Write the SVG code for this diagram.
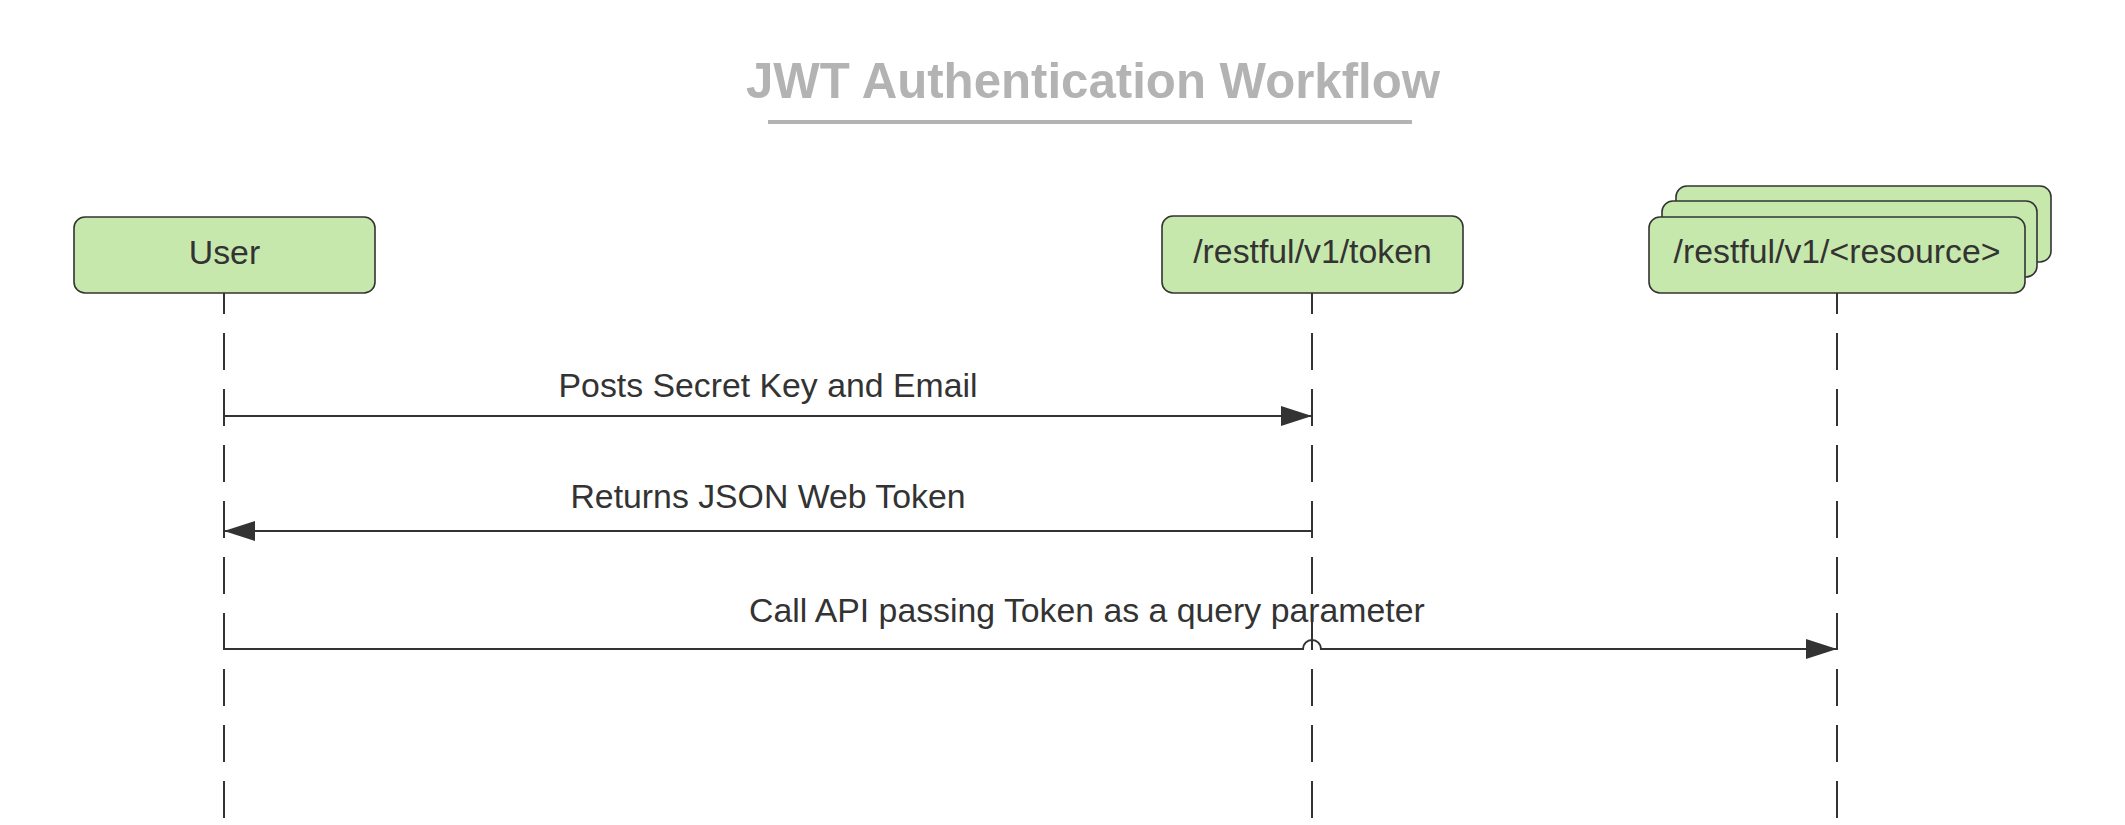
<svg xmlns="http://www.w3.org/2000/svg" width="2125" height="825" viewBox="0 0 2125 825">
  <style>
    .box { fill: #c7e8ac; stroke: #333333; stroke-width: 1.6; }
    .lbl { font-family: "Liberation Sans", Arial, sans-serif; font-size: 33.8px; fill: #333333; }
    .life { stroke: #333333; stroke-width: 2; stroke-dasharray: 37 19; stroke-dashoffset: 16; fill: none; }
    .msg { stroke: #333333; stroke-width: 2; fill: none; }
    .title { font-family: "Liberation Sans", Arial, sans-serif; font-size: 49.2px; font-weight: bold; fill: #b3b3b3; }
  </style>
  <defs>
    <marker id="arr" viewBox="0 0 31 20" refX="31" refY="10" markerWidth="31" markerHeight="20" markerUnits="userSpaceOnUse" orient="auto">
      <path d="M0,0 L31,10 L0,20 Z" fill="#333333"/>
    </marker>
  </defs>
  <rect width="2125" height="825" fill="#ffffff"/>

  <g id="title">
    <text class="title" x="1093" y="98" text-anchor="middle">JWT Authentication Workflow</text>
    <line x1="768" y1="122" x2="1412" y2="122" stroke="#b3b3b3" stroke-width="4"/>
  </g>

  <g id="connectors">
    <line class="life" x1="224" y1="293" x2="224" y2="825"/>
    <line class="life" x1="1312" y1="293" x2="1312" y2="825"/>
    <line class="life" x1="1837" y1="293" x2="1837" y2="825"/>

    <g id="msg1">
      <line class="msg" x1="224" y1="416" x2="1312" y2="416" marker-end="url(#arr)"/>
      <text class="lbl" x="768" y="397" text-anchor="middle">Posts Secret Key and Email</text>
    </g>
    <g id="msg2">
      <line class="msg" x1="1312" y1="531" x2="224" y2="531" marker-end="url(#arr)"/>
      <text class="lbl" x="768" y="508" text-anchor="middle">Returns JSON Web Token</text>
    </g>
    <g id="msg3">
      <path class="msg" d="M224,649 H1303 A9,9 0 0 1 1321,649 H1837" marker-end="url(#arr)"/>
      <text class="lbl" x="749" y="622">Call API passing Token as a query parameter</text>
    </g>
  </g>

  <g id="node-user">
    <rect class="box" x="74" y="217" width="301" height="76" rx="11"/>
    <text class="lbl" x="224.5" y="264" text-anchor="middle">User</text>
  </g>

  <g id="node-token">
    <rect class="box" x="1162" y="216" width="301" height="77" rx="11"/>
    <text class="lbl" x="1312.5" y="263" text-anchor="middle">/restful/v1/token</text>
  </g>

  <g id="node-resource">
    <rect class="box" x="1676" y="186" width="375" height="76" rx="11"/>
    <rect class="box" x="1662" y="201" width="375" height="76" rx="11"/>
    <rect class="box" x="1649" y="217" width="376" height="76" rx="11"/>
    <text class="lbl" x="1837" y="263" text-anchor="middle">/restful/v1/&lt;resource&gt;</text>
  </g>
</svg>
